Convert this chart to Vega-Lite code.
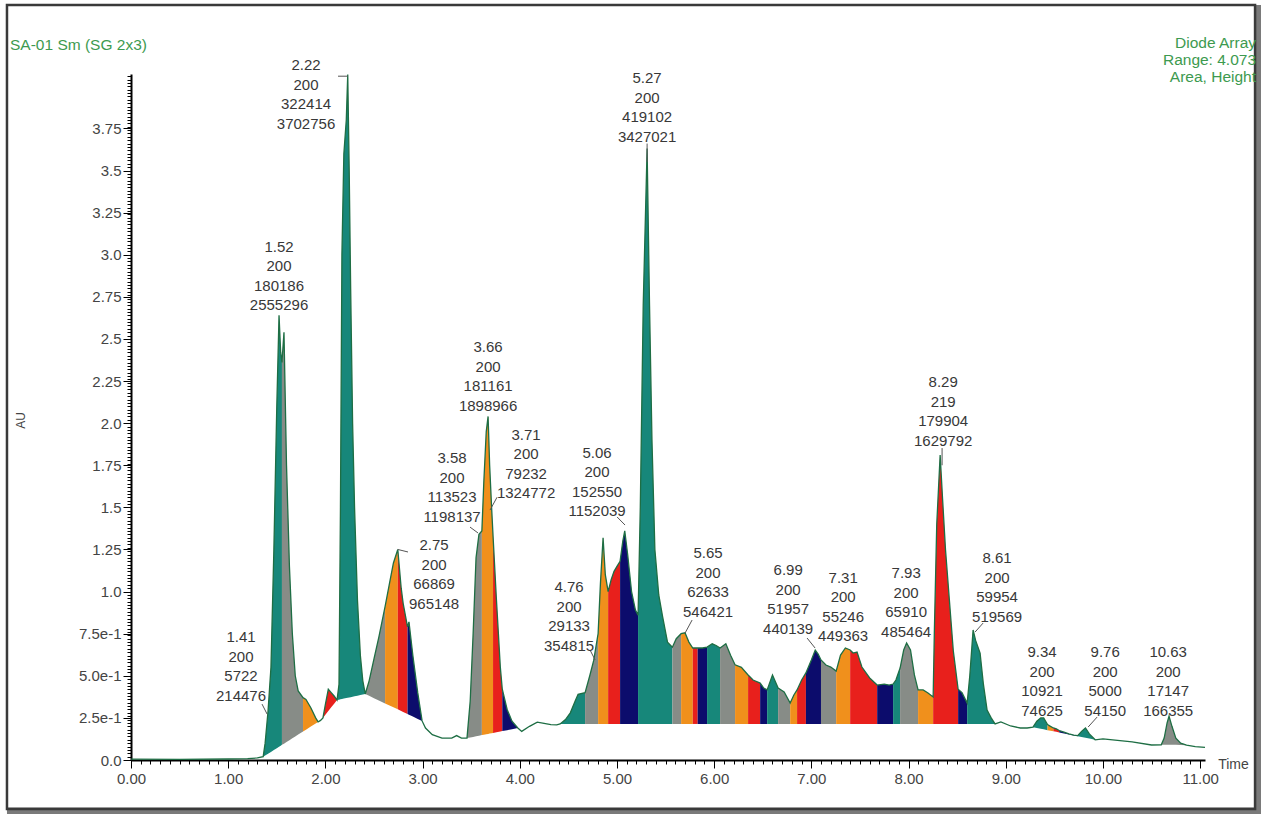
{
  "$schema": "https://vega.github.io/schema/vega-lite/v6.json",
  "width": 1074,
  "height": 686,
  "autosize": {"type": "none"},
  "padding": {"left": 131, "top": 74, "right": 56, "bottom": 54},
  "background": "white",
  "config": {
    "view": {"stroke": null},
    "font": "Liberation Sans",
    "axis": {"grid": false, "labelFont": "Liberation Sans", "titleFont": "Liberation Sans"}
  },
  "datasets": {
    "trace": [
      {"t": 0, "au": 0.005, "seg": 0, "kind": "none"},
      {"t": 0.5, "au": 0.004, "seg": 0, "kind": "none"},
      {"t": 1.0, "au": 0.006, "seg": 0, "kind": "none"},
      {"t": 1.2, "au": 0.008, "seg": 0, "kind": "none"},
      {"t": 1.3, "au": 0.012, "seg": 0, "kind": "none"},
      {"t": 1.36, "au": 0.02, "seg": 0, "kind": "none"},

      {"t": 1.36, "au": 0.02, "base": 0.019, "seg": 1, "kind": "teal"},
      {"t": 1.38, "au": 0.10, "base": 0.026, "seg": 1, "kind": "teal"},
      {"t": 1.41, "au": 0.29, "base": 0.037, "seg": 1, "kind": "teal"},
      {"t": 1.44, "au": 0.55, "base": 0.048, "seg": 1, "kind": "teal"},
      {"t": 1.47, "au": 1.25, "base": 0.059, "seg": 1, "kind": "teal"},
      {"t": 1.50, "au": 2.10, "base": 0.070, "seg": 1, "kind": "teal"},
      {"t": 1.523, "au": 2.64, "base": 0.079, "seg": 1, "kind": "teal"},
      {"t": 1.54, "au": 2.42, "base": 0.085, "seg": 1, "kind": "teal"},
      {"t": 1.553, "au": 2.36, "base": 0.090, "seg": 1, "kind": "teal"},

      {"t": 1.553, "au": 2.36, "base": 0.090, "seg": 2, "kind": "gray"},
      {"t": 1.574, "au": 2.54, "base": 0.097, "seg": 2, "kind": "gray"},
      {"t": 1.60, "au": 1.75, "base": 0.107, "seg": 2, "kind": "gray"},
      {"t": 1.63, "au": 1.15, "base": 0.118, "seg": 2, "kind": "gray"},
      {"t": 1.66, "au": 0.75, "base": 0.129, "seg": 2, "kind": "gray"},
      {"t": 1.69, "au": 0.50, "base": 0.140, "seg": 2, "kind": "gray"},
      {"t": 1.72, "au": 0.41, "base": 0.151, "seg": 2, "kind": "gray"},
      {"t": 1.77, "au": 0.37, "base": 0.169, "seg": 2, "kind": "gray"},

      {"t": 1.77, "au": 0.37, "base": 0.169, "seg": 3, "kind": "orange"},
      {"t": 1.80, "au": 0.36, "base": 0.180, "seg": 3, "kind": "orange"},
      {"t": 1.85, "au": 0.31, "base": 0.199, "seg": 3, "kind": "orange"},
      {"t": 1.90, "au": 0.25, "base": 0.217, "seg": 3, "kind": "orange"},
      {"t": 1.925, "au": 0.226, "base": 0.226, "seg": 3, "kind": "orange"},

      {"t": 1.925, "au": 0.226, "seg": 4, "kind": "none"},
      {"t": 1.95, "au": 0.235, "seg": 4, "kind": "none"},
      {"t": 1.975, "au": 0.25, "seg": 4, "kind": "none"},

      {"t": 1.975, "au": 0.25, "base": 0.25, "seg": 5, "kind": "red"},
      {"t": 2.00, "au": 0.33, "base": 0.268, "seg": 5, "kind": "red"},
      {"t": 2.03, "au": 0.42, "base": 0.291, "seg": 5, "kind": "red"},
      {"t": 2.06, "au": 0.40, "base": 0.313, "seg": 5, "kind": "red"},
      {"t": 2.09, "au": 0.38, "base": 0.334, "seg": 5, "kind": "red"},
      {"t": 2.12, "au": 0.356, "base": 0.356, "seg": 5, "kind": "red"},

      {"t": 2.12, "au": 0.356, "base": 0.356, "seg": 6, "kind": "teal"},
      {"t": 2.14, "au": 0.45, "base": 0.358, "seg": 6, "kind": "teal"},
      {"t": 2.155, "au": 1.5, "base": 0.360, "seg": 6, "kind": "teal"},
      {"t": 2.17, "au": 3.0, "base": 0.362, "seg": 6, "kind": "teal"},
      {"t": 2.19, "au": 3.6, "base": 0.365, "seg": 6, "kind": "teal"},
      {"t": 2.215, "au": 3.8, "base": 0.368, "seg": 6, "kind": "teal"},
      {"t": 2.23, "au": 4.07, "base": 0.369, "seg": 6, "kind": "teal"},
      {"t": 2.245, "au": 3.5, "base": 0.371, "seg": 6, "kind": "teal"},
      {"t": 2.26, "au": 2.8, "base": 0.373, "seg": 6, "kind": "teal"},
      {"t": 2.28, "au": 2.0, "base": 0.376, "seg": 6, "kind": "teal"},
      {"t": 2.30, "au": 1.5, "base": 0.378, "seg": 6, "kind": "teal"},
      {"t": 2.33, "au": 0.95, "base": 0.382, "seg": 6, "kind": "teal"},
      {"t": 2.36, "au": 0.62, "base": 0.386, "seg": 6, "kind": "teal"},
      {"t": 2.385, "au": 0.47, "base": 0.389, "seg": 6, "kind": "teal"},
      {"t": 2.41, "au": 0.392, "base": 0.392, "seg": 6, "kind": "teal"},

      {"t": 2.41, "au": 0.392, "base": 0.392, "seg": 7, "kind": "gray"},
      {"t": 2.45, "au": 0.47, "base": 0.381, "seg": 7, "kind": "gray"},
      {"t": 2.50, "au": 0.60, "base": 0.367, "seg": 7, "kind": "gray"},
      {"t": 2.55, "au": 0.73, "base": 0.354, "seg": 7, "kind": "gray"},
      {"t": 2.614, "au": 0.91, "base": 0.336, "seg": 7, "kind": "gray"},

      {"t": 2.614, "au": 0.91, "base": 0.336, "seg": 8, "kind": "orange"},
      {"t": 2.66, "au": 1.05, "base": 0.324, "seg": 8, "kind": "orange"},
      {"t": 2.70, "au": 1.17, "base": 0.313, "seg": 8, "kind": "orange"},
      {"t": 2.745, "au": 1.25, "base": 0.301, "seg": 8, "kind": "orange"},

      {"t": 2.745, "au": 1.25, "base": 0.301, "seg": 9, "kind": "red"},
      {"t": 2.78, "au": 1.02, "base": 0.291, "seg": 9, "kind": "red"},
      {"t": 2.80, "au": 0.93, "base": 0.285, "seg": 9, "kind": "red"},
      {"t": 2.845, "au": 0.79, "base": 0.273, "seg": 9, "kind": "red"},

      {"t": 2.845, "au": 0.79, "base": 0.273, "seg": 10, "kind": "navy"},
      {"t": 2.86, "au": 0.82, "base": 0.269, "seg": 10, "kind": "navy"},
      {"t": 2.90, "au": 0.62, "base": 0.258, "seg": 10, "kind": "navy"},
      {"t": 2.95, "au": 0.40, "base": 0.244, "seg": 10, "kind": "navy"},
      {"t": 2.995, "au": 0.232, "base": 0.232, "seg": 10, "kind": "navy"},

      {"t": 2.995, "au": 0.232, "seg": 11, "kind": "none"},
      {"t": 3.03, "au": 0.19, "seg": 11, "kind": "none"},
      {"t": 3.10, "au": 0.15, "seg": 11, "kind": "none"},
      {"t": 3.20, "au": 0.13, "seg": 11, "kind": "none"},
      {"t": 3.30, "au": 0.13, "seg": 11, "kind": "none"},
      {"t": 3.35, "au": 0.145, "seg": 11, "kind": "none"},
      {"t": 3.40, "au": 0.13, "seg": 11, "kind": "none"},
      {"t": 3.457, "au": 0.13, "seg": 11, "kind": "none"},

      {"t": 3.457, "au": 0.13, "base": 0.13, "seg": 12, "kind": "gray"},
      {"t": 3.49, "au": 0.35, "base": 0.134, "seg": 12, "kind": "gray"},
      {"t": 3.52, "au": 0.75, "base": 0.137, "seg": 12, "kind": "gray"},
      {"t": 3.55, "au": 1.20, "base": 0.141, "seg": 12, "kind": "gray"},
      {"t": 3.58, "au": 1.34, "base": 0.144, "seg": 12, "kind": "gray"},
      {"t": 3.61, "au": 1.36, "base": 0.148, "seg": 12, "kind": "gray"},

      {"t": 3.61, "au": 1.36, "base": 0.148, "seg": 13, "kind": "orange"},
      {"t": 3.63, "au": 1.65, "base": 0.150, "seg": 13, "kind": "orange"},
      {"t": 3.655, "au": 1.95, "base": 0.153, "seg": 13, "kind": "orange"},
      {"t": 3.674, "au": 2.04, "base": 0.155, "seg": 13, "kind": "orange"},
      {"t": 3.69, "au": 1.75, "base": 0.157, "seg": 13, "kind": "orange"},
      {"t": 3.71, "au": 1.50, "base": 0.159, "seg": 13, "kind": "orange"},
      {"t": 3.725, "au": 1.33, "base": 0.161, "seg": 13, "kind": "orange"},

      {"t": 3.725, "au": 1.33, "base": 0.161, "seg": 14, "kind": "red"},
      {"t": 3.76, "au": 0.95, "base": 0.165, "seg": 14, "kind": "red"},
      {"t": 3.80, "au": 0.55, "base": 0.169, "seg": 14, "kind": "red"},
      {"t": 3.82, "au": 0.42, "base": 0.172, "seg": 14, "kind": "red"},

      {"t": 3.82, "au": 0.42, "base": 0.172, "seg": 15, "kind": "navy"},
      {"t": 3.87, "au": 0.30, "base": 0.177, "seg": 15, "kind": "navy"},
      {"t": 3.92, "au": 0.23, "base": 0.183, "seg": 15, "kind": "navy"},
      {"t": 3.98, "au": 0.19, "base": 0.19, "seg": 15, "kind": "navy"},

      {"t": 3.98, "au": 0.19, "seg": 16, "kind": "none"},
      {"t": 4.02, "au": 0.17, "seg": 16, "kind": "none"},
      {"t": 4.10, "au": 0.20, "seg": 16, "kind": "none"},
      {"t": 4.18, "au": 0.225, "seg": 16, "kind": "none"},
      {"t": 4.25, "au": 0.218, "seg": 16, "kind": "none"},
      {"t": 4.32, "au": 0.21, "seg": 16, "kind": "none"},
      {"t": 4.38, "au": 0.208, "seg": 16, "kind": "none"},
      {"t": 4.415, "au": 0.214, "seg": 16, "kind": "none"},

      {"t": 4.415, "au": 0.214, "base": 0.214, "seg": 17, "kind": "teal"},
      {"t": 4.47, "au": 0.24, "base": 0.214, "seg": 17, "kind": "teal"},
      {"t": 4.52, "au": 0.28, "base": 0.214, "seg": 17, "kind": "teal"},
      {"t": 4.57, "au": 0.35, "base": 0.214, "seg": 17, "kind": "teal"},
      {"t": 4.60, "au": 0.39, "base": 0.214, "seg": 17, "kind": "teal"},
      {"t": 4.672, "au": 0.40, "base": 0.214, "seg": 17, "kind": "teal"},

      {"t": 4.672, "au": 0.40, "base": 0.214, "seg": 18, "kind": "gray"},
      {"t": 4.72, "au": 0.50, "base": 0.214, "seg": 18, "kind": "gray"},
      {"t": 4.76, "au": 0.59, "base": 0.214, "seg": 18, "kind": "gray"},
      {"t": 4.806, "au": 0.75, "base": 0.214, "seg": 18, "kind": "gray"},

      {"t": 4.806, "au": 0.75, "base": 0.214, "seg": 19, "kind": "orange"},
      {"t": 4.83, "au": 1.05, "base": 0.214, "seg": 19, "kind": "orange"},
      {"t": 4.857, "au": 1.32, "base": 0.214, "seg": 19, "kind": "orange"},
      {"t": 4.88, "au": 1.10, "base": 0.214, "seg": 19, "kind": "orange"},
      {"t": 4.909, "au": 1.0, "base": 0.214, "seg": 19, "kind": "orange"},

      {"t": 4.909, "au": 1.0, "base": 0.214, "seg": 20, "kind": "red"},
      {"t": 4.94, "au": 1.07, "base": 0.214, "seg": 20, "kind": "red"},
      {"t": 4.97, "au": 1.12, "base": 0.214, "seg": 20, "kind": "red"},
      {"t": 5.00, "au": 1.15, "base": 0.214, "seg": 20, "kind": "red"},
      {"t": 5.032, "au": 1.18, "base": 0.214, "seg": 20, "kind": "red"},

      {"t": 5.032, "au": 1.18, "base": 0.214, "seg": 21, "kind": "navy"},
      {"t": 5.06, "au": 1.30, "base": 0.214, "seg": 21, "kind": "navy"},
      {"t": 5.08, "au": 1.36, "base": 0.214, "seg": 21, "kind": "navy"},
      {"t": 5.11, "au": 1.22, "base": 0.214, "seg": 21, "kind": "navy"},
      {"t": 5.15, "au": 1.0, "base": 0.214, "seg": 21, "kind": "navy"},
      {"t": 5.19, "au": 0.89, "base": 0.214, "seg": 21, "kind": "navy"},
      {"t": 5.217, "au": 0.86, "base": 0.214, "seg": 21, "kind": "navy"},

      {"t": 5.217, "au": 0.86, "base": 0.214, "seg": 22, "kind": "teal"},
      {"t": 5.24, "au": 1.5, "base": 0.214, "seg": 22, "kind": "teal"},
      {"t": 5.27, "au": 2.7, "base": 0.214, "seg": 22, "kind": "teal"},
      {"t": 5.31, "au": 3.63, "base": 0.214, "seg": 22, "kind": "teal"},
      {"t": 5.335, "au": 2.7, "base": 0.214, "seg": 22, "kind": "teal"},
      {"t": 5.36, "au": 1.9, "base": 0.214, "seg": 22, "kind": "teal"},
      {"t": 5.39, "au": 1.25, "base": 0.214, "seg": 22, "kind": "teal"},
      {"t": 5.43, "au": 0.98, "base": 0.214, "seg": 22, "kind": "teal"},
      {"t": 5.47, "au": 0.85, "base": 0.214, "seg": 22, "kind": "teal"},
      {"t": 5.52, "au": 0.70, "base": 0.214, "seg": 22, "kind": "teal"},
      {"t": 5.57, "au": 0.67, "base": 0.214, "seg": 22, "kind": "teal"},

      {"t": 5.57, "au": 0.67, "base": 0.214, "seg": 23, "kind": "gray"},
      {"t": 5.61, "au": 0.72, "base": 0.214, "seg": 23, "kind": "gray"},
      {"t": 5.66, "au": 0.75, "base": 0.214, "seg": 23, "kind": "gray"},

      {"t": 5.66, "au": 0.75, "base": 0.214, "seg": 24, "kind": "orange"},
      {"t": 5.70, "au": 0.755, "base": 0.214, "seg": 24, "kind": "orange"},
      {"t": 5.74, "au": 0.70, "base": 0.214, "seg": 24, "kind": "orange"},
      {"t": 5.78, "au": 0.665, "base": 0.214, "seg": 24, "kind": "orange"},

      {"t": 5.78, "au": 0.665, "base": 0.214, "seg": 25, "kind": "red"},
      {"t": 5.83, "au": 0.665, "base": 0.214, "seg": 25, "kind": "red"},

      {"t": 5.83, "au": 0.665, "base": 0.214, "seg": 26, "kind": "navy"},
      {"t": 5.88, "au": 0.665, "base": 0.214, "seg": 26, "kind": "navy"},
      {"t": 5.927, "au": 0.67, "base": 0.214, "seg": 26, "kind": "navy"},

      {"t": 5.927, "au": 0.67, "base": 0.214, "seg": 27, "kind": "teal"},
      {"t": 5.98, "au": 0.69, "base": 0.214, "seg": 27, "kind": "teal"},
      {"t": 6.02, "au": 0.68, "base": 0.214, "seg": 27, "kind": "teal"},
      {"t": 6.061, "au": 0.665, "base": 0.214, "seg": 27, "kind": "teal"},

      {"t": 6.061, "au": 0.665, "base": 0.214, "seg": 28, "kind": "gray"},
      {"t": 6.12, "au": 0.69, "base": 0.214, "seg": 28, "kind": "gray"},
      {"t": 6.17, "au": 0.62, "base": 0.214, "seg": 28, "kind": "gray"},
      {"t": 6.215, "au": 0.565, "base": 0.214, "seg": 28, "kind": "gray"},

      {"t": 6.215, "au": 0.565, "base": 0.214, "seg": 29, "kind": "orange"},
      {"t": 6.28, "au": 0.55, "base": 0.214, "seg": 29, "kind": "orange"},
      {"t": 6.349, "au": 0.505, "base": 0.214, "seg": 29, "kind": "orange"},

      {"t": 6.349, "au": 0.505, "base": 0.214, "seg": 30, "kind": "red"},
      {"t": 6.40, "au": 0.475, "base": 0.214, "seg": 30, "kind": "red"},
      {"t": 6.473, "au": 0.457, "base": 0.214, "seg": 30, "kind": "red"},

      {"t": 6.473, "au": 0.457, "base": 0.214, "seg": 31, "kind": "navy"},
      {"t": 6.51, "au": 0.427, "base": 0.214, "seg": 31, "kind": "navy"},
      {"t": 6.545, "au": 0.416, "base": 0.214, "seg": 31, "kind": "navy"},

      {"t": 6.545, "au": 0.416, "base": 0.214, "seg": 32, "kind": "teal"},
      {"t": 6.60, "au": 0.505, "base": 0.214, "seg": 32, "kind": "teal"},
      {"t": 6.658, "au": 0.427, "base": 0.214, "seg": 32, "kind": "teal"},

      {"t": 6.658, "au": 0.427, "base": 0.214, "seg": 33, "kind": "gray"},
      {"t": 6.72, "au": 0.404, "base": 0.214, "seg": 33, "kind": "gray"},
      {"t": 6.782, "au": 0.338, "base": 0.214, "seg": 33, "kind": "gray"},

      {"t": 6.782, "au": 0.338, "base": 0.214, "seg": 34, "kind": "orange"},
      {"t": 6.82, "au": 0.386, "base": 0.214, "seg": 34, "kind": "orange"},
      {"t": 6.853, "au": 0.416, "base": 0.214, "seg": 34, "kind": "orange"},

      {"t": 6.853, "au": 0.416, "base": 0.214, "seg": 35, "kind": "red"},
      {"t": 6.90, "au": 0.475, "base": 0.214, "seg": 35, "kind": "red"},
      {"t": 6.944, "au": 0.517, "base": 0.214, "seg": 35, "kind": "red"},

      {"t": 6.944, "au": 0.517, "base": 0.214, "seg": 36, "kind": "navy"},
      {"t": 7.00, "au": 0.594, "base": 0.214, "seg": 36, "kind": "navy"},
      {"t": 7.04, "au": 0.653, "base": 0.214, "seg": 36, "kind": "navy"},
      {"t": 7.07, "au": 0.629, "base": 0.214, "seg": 36, "kind": "navy"},
      {"t": 7.099, "au": 0.594, "base": 0.214, "seg": 36, "kind": "navy"},

      {"t": 7.099, "au": 0.594, "base": 0.214, "seg": 37, "kind": "gray"},
      {"t": 7.15, "au": 0.564, "base": 0.214, "seg": 37, "kind": "gray"},
      {"t": 7.20, "au": 0.552, "base": 0.214, "seg": 37, "kind": "gray"},
      {"t": 7.255, "au": 0.528, "base": 0.214, "seg": 37, "kind": "gray"},

      {"t": 7.255, "au": 0.528, "base": 0.214, "seg": 38, "kind": "orange"},
      {"t": 7.30, "au": 0.623, "base": 0.214, "seg": 38, "kind": "orange"},
      {"t": 7.35, "au": 0.665, "base": 0.214, "seg": 38, "kind": "orange"},
      {"t": 7.399, "au": 0.653, "base": 0.214, "seg": 38, "kind": "orange"},

      {"t": 7.399, "au": 0.653, "base": 0.214, "seg": 39, "kind": "red"},
      {"t": 7.43, "au": 0.635, "base": 0.214, "seg": 39, "kind": "red"},
      {"t": 7.47, "au": 0.641, "base": 0.214, "seg": 39, "kind": "red"},
      {"t": 7.52, "au": 0.552, "base": 0.214, "seg": 39, "kind": "red"},
      {"t": 7.60, "au": 0.487, "base": 0.214, "seg": 39, "kind": "red"},
      {"t": 7.677, "au": 0.445, "base": 0.214, "seg": 39, "kind": "red"},

      {"t": 7.677, "au": 0.445, "base": 0.214, "seg": 40, "kind": "navy"},
      {"t": 7.75, "au": 0.451, "base": 0.214, "seg": 40, "kind": "navy"},
      {"t": 7.80, "au": 0.445, "base": 0.214, "seg": 40, "kind": "navy"},
      {"t": 7.841, "au": 0.451, "base": 0.214, "seg": 40, "kind": "navy"},

      {"t": 7.841, "au": 0.451, "base": 0.214, "seg": 41, "kind": "teal"},
      {"t": 7.87, "au": 0.475, "base": 0.214, "seg": 41, "kind": "teal"},
      {"t": 7.913, "au": 0.546, "base": 0.214, "seg": 41, "kind": "teal"},

      {"t": 7.913, "au": 0.546, "base": 0.214, "seg": 42, "kind": "gray"},
      {"t": 7.95, "au": 0.653, "base": 0.214, "seg": 42, "kind": "gray"},
      {"t": 7.98, "au": 0.695, "base": 0.214, "seg": 42, "kind": "gray"},
      {"t": 8.02, "au": 0.653, "base": 0.214, "seg": 42, "kind": "gray"},
      {"t": 8.06, "au": 0.505, "base": 0.214, "seg": 42, "kind": "gray"},
      {"t": 8.098, "au": 0.416, "base": 0.214, "seg": 42, "kind": "gray"},

      {"t": 8.098, "au": 0.416, "base": 0.214, "seg": 43, "kind": "orange"},
      {"t": 8.15, "au": 0.416, "base": 0.214, "seg": 43, "kind": "orange"},
      {"t": 8.20, "au": 0.398, "base": 0.214, "seg": 43, "kind": "orange"},
      {"t": 8.253, "au": 0.374, "base": 0.214, "seg": 43, "kind": "orange"},

      {"t": 8.253, "au": 0.374, "base": 0.214, "seg": 44, "kind": "red"},
      {"t": 8.265, "au": 0.75, "base": 0.214, "seg": 44, "kind": "red"},
      {"t": 8.29, "au": 1.40, "base": 0.214, "seg": 44, "kind": "red"},
      {"t": 8.325, "au": 1.81, "base": 0.214, "seg": 44, "kind": "red"},
      {"t": 8.35, "au": 1.55, "base": 0.214, "seg": 44, "kind": "red"},
      {"t": 8.38, "au": 1.25, "base": 0.214, "seg": 44, "kind": "red"},
      {"t": 8.42, "au": 0.95, "base": 0.214, "seg": 44, "kind": "red"},
      {"t": 8.46, "au": 0.65, "base": 0.214, "seg": 44, "kind": "red"},
      {"t": 8.51, "au": 0.42, "base": 0.214, "seg": 44, "kind": "red"},

      {"t": 8.51, "au": 0.42, "base": 0.214, "seg": 45, "kind": "navy"},
      {"t": 8.55, "au": 0.40, "base": 0.214, "seg": 45, "kind": "navy"},
      {"t": 8.603, "au": 0.338, "base": 0.214, "seg": 45, "kind": "navy"},

      {"t": 8.603, "au": 0.338, "base": 0.214, "seg": 46, "kind": "teal"},
      {"t": 8.63, "au": 0.50, "base": 0.214, "seg": 46, "kind": "teal"},
      {"t": 8.664, "au": 0.772, "base": 0.214, "seg": 46, "kind": "teal"},
      {"t": 8.69, "au": 0.71, "base": 0.214, "seg": 46, "kind": "teal"},
      {"t": 8.736, "au": 0.635, "base": 0.214, "seg": 46, "kind": "teal"},
      {"t": 8.77, "au": 0.45, "base": 0.214, "seg": 46, "kind": "teal"},
      {"t": 8.808, "au": 0.297, "base": 0.214, "seg": 46, "kind": "teal"},
      {"t": 8.85, "au": 0.25, "base": 0.214, "seg": 46, "kind": "teal"},
      {"t": 8.89, "au": 0.214, "base": 0.214, "seg": 46, "kind": "teal"},

      {"t": 8.89, "au": 0.214, "seg": 47, "kind": "none"},
      {"t": 8.95, "au": 0.226, "seg": 47, "kind": "none"},
      {"t": 9.05, "au": 0.202, "seg": 47, "kind": "none"},
      {"t": 9.15, "au": 0.19, "seg": 47, "kind": "none"},
      {"t": 9.22, "au": 0.19, "seg": 47, "kind": "none"},
      {"t": 9.28, "au": 0.195, "seg": 47, "kind": "none"},

      {"t": 9.28, "au": 0.195, "base": 0.195, "seg": 48, "kind": "teal"},
      {"t": 9.32, "au": 0.23, "base": 0.190, "seg": 48, "kind": "teal"},
      {"t": 9.36, "au": 0.25, "base": 0.186, "seg": 48, "kind": "teal"},
      {"t": 9.39, "au": 0.25, "base": 0.182, "seg": 48, "kind": "teal"},
      {"t": 9.43, "au": 0.21, "base": 0.177, "seg": 48, "kind": "teal"},

      {"t": 9.43, "au": 0.21, "base": 0.177, "seg": 49, "kind": "orange"},
      {"t": 9.46, "au": 0.20, "base": 0.174, "seg": 49, "kind": "orange"},
      {"t": 9.49, "au": 0.19, "base": 0.170, "seg": 49, "kind": "orange"},

      {"t": 9.49, "au": 0.19, "base": 0.170, "seg": 50, "kind": "red"},
      {"t": 9.52, "au": 0.185, "base": 0.167, "seg": 50, "kind": "red"},
      {"t": 9.55, "au": 0.175, "base": 0.163, "seg": 50, "kind": "red"},

      {"t": 9.55, "au": 0.175, "base": 0.163, "seg": 51, "kind": "navy"},
      {"t": 9.60, "au": 0.165, "base": 0.158, "seg": 51, "kind": "navy"},
      {"t": 9.65, "au": 0.155, "base": 0.152, "seg": 51, "kind": "navy"},
      {"t": 9.70, "au": 0.148, "base": 0.146, "seg": 51, "kind": "navy"},
      {"t": 9.74, "au": 0.145, "base": 0.141, "seg": 51, "kind": "navy"},

      {"t": 9.74, "au": 0.145, "base": 0.141, "seg": 52, "kind": "teal"},
      {"t": 9.78, "au": 0.17, "base": 0.137, "seg": 52, "kind": "teal"},
      {"t": 9.82, "au": 0.19, "base": 0.132, "seg": 52, "kind": "teal"},
      {"t": 9.86, "au": 0.155, "base": 0.127, "seg": 52, "kind": "teal"},
      {"t": 9.92, "au": 0.12, "base": 0.12, "seg": 52, "kind": "teal"},

      {"t": 9.92, "au": 0.12, "seg": 53, "kind": "none"},
      {"t": 10.0, "au": 0.125, "seg": 53, "kind": "none"},
      {"t": 10.1, "au": 0.119, "seg": 53, "kind": "none"},
      {"t": 10.3, "au": 0.107, "seg": 53, "kind": "none"},
      {"t": 10.5, "au": 0.089, "seg": 53, "kind": "none"},
      {"t": 10.6, "au": 0.09, "seg": 53, "kind": "none"},

      {"t": 10.60, "au": 0.09, "base": 0.09, "seg": 54, "kind": "gray"},
      {"t": 10.63, "au": 0.13, "base": 0.09, "seg": 54, "kind": "gray"},
      {"t": 10.66, "au": 0.22, "base": 0.09, "seg": 54, "kind": "gray"},
      {"t": 10.68, "au": 0.26, "base": 0.09, "seg": 54, "kind": "gray"},
      {"t": 10.71, "au": 0.20, "base": 0.09, "seg": 54, "kind": "gray"},
      {"t": 10.75, "au": 0.13, "base": 0.09, "seg": 54, "kind": "gray"},
      {"t": 10.80, "au": 0.10, "base": 0.089, "seg": 54, "kind": "gray"},
      {"t": 10.86, "au": 0.088, "base": 0.088, "seg": 54, "kind": "gray"},

      {"t": 10.86, "au": 0.088, "seg": 55, "kind": "none"},
      {"t": 10.95, "au": 0.08, "seg": 55, "kind": "none"},
      {"t": 11.05, "au": 0.075, "seg": 55, "kind": "none"}
    ],
    "peaks": [
      {"lt": 1.801, "la": 4.126, "lab": "2.22\n200\n322414\n3702756"},
      {"lt": 1.523, "la": 3.046, "lab": "1.52\n200\n180186\n2555296"},
      {"lt": 1.132, "la": 0.730, "lab": "1.41\n200\n5722\n214476"},
      {"lt": 3.118, "la": 1.276, "lab": "2.75\n200\n66869\n965148"},
      {"lt": 3.303, "la": 1.793, "lab": "3.58\n200\n113523\n1198137"},
      {"lt": 3.674, "la": 2.452, "lab": "3.66\n200\n181161\n1898966"},
      {"lt": 4.065, "la": 1.930, "lab": "3.71\n200\n79232\n1324772"},
      {"lt": 4.795, "la": 1.823, "lab": "5.06\n200\n152550\n1152039"},
      {"lt": 4.507, "la": 1.027, "lab": "4.76\n200\n29133\n354815"},
      {"lt": 5.310, "la": 4.049, "lab": "5.27\n200\n419102\n3427021"},
      {"lt": 5.937, "la": 1.229, "lab": "5.65\n200\n62633\n546421"},
      {"lt": 6.761, "la": 1.128, "lab": "6.99\n200\n51957\n440139"},
      {"lt": 7.327, "la": 1.081, "lab": "7.31\n200\n55246\n449363"},
      {"lt": 7.975, "la": 1.110, "lab": "7.93\n200\n65910\n485464"},
      {"lt": 8.356, "la": 2.244, "lab": "8.29\n219\n179904\n1629792"},
      {"lt": 8.911, "la": 1.199, "lab": "8.61\n200\n59954\n519569"},
      {"lt": 9.374, "la": 0.641, "lab": "9.34\n200\n10921\n74625"},
      {"lt": 10.023, "la": 0.641, "lab": "9.76\n200\n5000\n54150"},
      {"lt": 10.671, "la": 0.641, "lab": "10.63\n200\n17147\n166355"}
    ],
    "leaders": [
      {"t1": 2.13, "a1": 4.06, "t2": 2.23, "a2": 4.06},
      {"t1": 1.348, "a1": 0.332, "t2": 1.40, "a2": 0.273},
      {"t1": 2.745, "a1": 1.25, "t2": 2.85, "a2": 1.235},
      {"t1": 3.488, "a1": 1.383, "t2": 3.57, "a2": 1.348},
      {"t1": 3.766, "a1": 1.56, "t2": 3.694, "a2": 1.484},
      {"t1": 5.001, "a1": 1.443, "t2": 5.083, "a2": 1.395},
      {"t1": 4.723, "a1": 0.653, "t2": 4.775, "a2": 0.594},
      {"t1": 5.773, "a1": 0.831, "t2": 5.701, "a2": 0.754},
      {"t1": 6.956, "a1": 0.724, "t2": 7.038, "a2": 0.665},
      {"t1": 8.345, "a1": 1.852, "t2": 8.345, "a2": 1.75},
      {"t1": 5.31, "a1": 3.66, "t2": 5.31, "a2": 3.55},
      {"t1": 8.767, "a1": 0.813, "t2": 8.685, "a2": 0.76},
      {"t1": 9.94, "a1": 0.255, "t2": 9.848, "a2": 0.196}
    ]
  },
  "layer": [
    {
      "data": {"values": [
        {"x0": 11.591, "x1": 11.591, "y0": 4.483, "y1": -0.321},
        {"x0": -1.276, "x1": 11.63, "y0": -0.303, "y1": -0.303}
      ]},
      "mark": {"type": "rule", "color": "#7a7a7a", "strokeWidth": 7},
      "encoding": {
        "x": {"field": "x0", "type": "quantitative", "axis": null},
        "x2": {"field": "x1"},
        "y": {"field": "y0", "type": "quantitative", "axis": null},
        "y2": {"field": "y1"}
      }
    },
    {
      "data": {"values": [{"x0": -1.276, "x1": 11.565, "y0": 4.483, "y1": -0.291}]},
      "mark": {"type": "rect", "fill": null, "stroke": "#3a3a3a", "strokeWidth": 2.5},
      "encoding": {
        "x": {"field": "x0", "type": "quantitative", "axis": null},
        "x2": {"field": "x1"},
        "y": {"field": "y0", "type": "quantitative", "axis": null},
        "y2": {"field": "y1"}
      }
    },
    {
      "data": {"name": "trace"},
      "transform": [{"filter": "datum.kind !== 'none'"}],
      "mark": {"type": "area", "interpolate": "linear"},
      "encoding": {
        "x": {
          "field": "t", "type": "quantitative",
          "scale": {"domain": [0, 11.05], "nice": false},
          "axis": {
            "orient": "bottom",
            "values": [0, 1, 2, 3, 4, 5, 6, 7, 8, 9, 10, 11],
            "format": ".2f",
            "labelFlush": false,
            "labelOverlap": false,
            "labelFontSize": 15,
            "labelColor": "#444444",
            "labelPadding": 3,
            "tickSize": 8,
            "tickColor": "#000000",
            "domainColor": "#000000",
            "domainWidth": 2,
            "title": "Time",
            "titleFontSize": 14,
            "titleFontWeight": "normal",
            "titleColor": "#444444",
            "titleX": 1102,
            "titleY": 4,
            "titleAlign": "center",
            "titleBaseline": "middle"
          }
        },
        "y": {
          "field": "au", "type": "quantitative",
          "scale": {"domain": [0, 4.073], "nice": false},
          "axis": {
            "orient": "left",
            "values": [0, 0.25, 0.5, 0.75, 1, 1.25, 1.5, 1.75, 2, 2.25, 2.5, 2.75, 3, 3.25, 3.5, 3.75],
            "labelExpr": "datum.value == 0 ? '0.0' : datum.value < 1 ? format(datum.value * 10, '.1f') + 'e-1' : datum.value % 0.5 == 0 ? format(datum.value, '.1f') : format(datum.value, '.2f')",
            "labelFontSize": 15,
            "labelColor": "#444444",
            "labelPadding": 2,
            "tickSize": 8,
            "tickColor": "#000000",
            "domainColor": "#000000",
            "domainWidth": 2,
            "title": "AU",
            "titleFontSize": 12,
            "titleFontWeight": "normal",
            "titleColor": "#444444",
            "titleX": -104,
            "titleY": 346
          }
        },
        "y2": {"field": "base"},
        "color": {
          "field": "kind", "type": "nominal",
          "scale": {
            "domain": ["teal", "gray", "orange", "red", "navy"],
            "range": ["#17877a", "#878c87", "#f0901c", "#e8201c", "#0c0c6c"]
          },
          "legend": null
        },
        "detail": {"field": "seg"}
      }
    },
    {
      "data": {"name": "trace"},
      "mark": {"type": "line", "color": "#1e6e44", "strokeWidth": 1.3},
      "encoding": {
        "x": {
          "field": "t", "type": "quantitative",
          "axis": {"orient": "bottom", "tickCount": 110, "labels": false, "domain": false, "title": null, "tickSize": 4, "tickColor": "#000000"}
        },
        "y": {
          "field": "au", "type": "quantitative",
          "axis": {"orient": "left", "tickCount": 200, "labels": false, "domain": false, "title": null, "tickSize": 4, "tickColor": "#000000"}
        }
      }
    },
    {
      "data": {"name": "leaders"},
      "mark": {"type": "rule", "color": "#555555", "strokeWidth": 1},
      "encoding": {
        "x": {"field": "t1", "type": "quantitative", "axis": null},
        "y": {"field": "a1", "type": "quantitative", "axis": null},
        "x2": {"field": "t2"},
        "y2": {"field": "a2"}
      }
    },
    {
      "data": {"name": "peaks"},
      "mark": {"type": "text", "align": "center", "baseline": "middle", "lineBreak": "\n", "lineHeight": 19.5, "fontSize": 15, "color": "#383838"},
      "encoding": {
        "x": {"field": "lt", "type": "quantitative", "axis": null},
        "y": {"field": "la", "type": "quantitative", "axis": null},
        "text": {"field": "lab"}
      }
    },
    {
      "data": {"values": [{"lt": -1.245, "la": 4.245, "lab": "SA-01 Sm (SG 2x3)"}]},
      "mark": {"type": "text", "align": "left", "baseline": "middle", "fontSize": 15.5, "color": "#3d9a4f"},
      "encoding": {
        "x": {"field": "lt", "type": "quantitative", "axis": null},
        "y": {"field": "la", "type": "quantitative", "axis": null},
        "text": {"field": "lab"}
      }
    },
    {
      "data": {"values": [{"lt": 11.575, "la": 4.257, "lab": "Diode Array\nRange: 4.073\nArea, Height"}]},
      "mark": {"type": "text", "align": "right", "baseline": "middle", "lineBreak": "\n", "lineHeight": 17, "fontSize": 15.5, "color": "#3d9a4f"},
      "encoding": {
        "x": {"field": "lt", "type": "quantitative", "axis": null},
        "y": {"field": "la", "type": "quantitative", "axis": null},
        "text": {"field": "lab"}
      }
    }
  ],
  "resolve": {"axis": {"x": "independent", "y": "independent"}}
}
